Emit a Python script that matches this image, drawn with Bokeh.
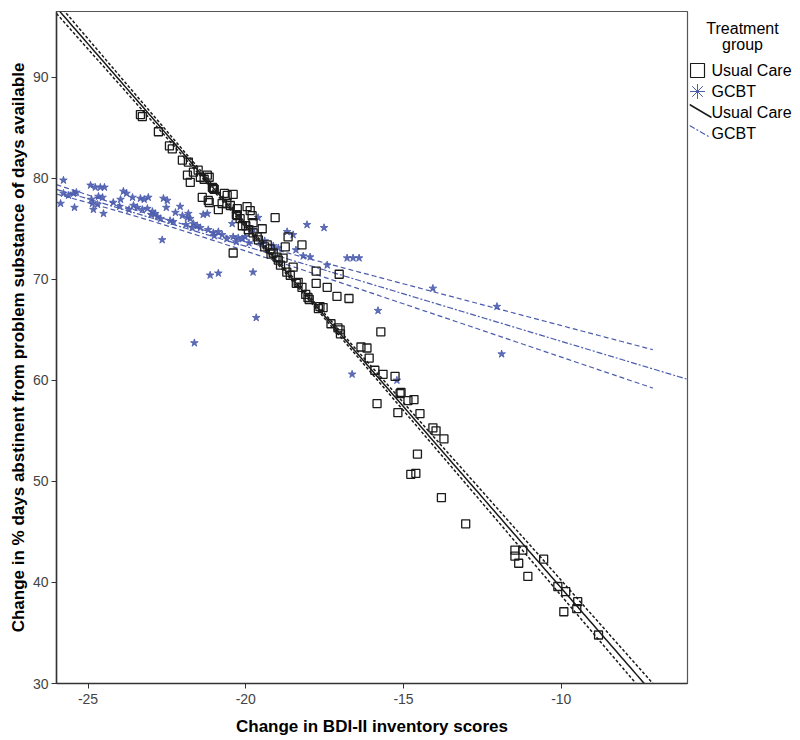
import numpy as np
from bokeh.plotting import figure
from bokeh.layouts import row
from bokeh.models import Range1d, FixedTicker
from bokeh.core.properties import value
from bokeh.embed import file_html
from bokeh.resources import INLINE

# ---------------- data ----------------
x_ticks = [-25, -20, -15, -10]
x_tick_labels = ["-25", "-20", "-15", "-10"]
y_ticks = [30, 40, 50, 60, 70, 80, 90]

# Usual Care (open squares)
uc_x = [-23.34, -23.28, -22.77, -22.42, -22.33, -22.01, -21.82, -21.85, -21.76, -21.66,
        -21.51, -21.44, -21.32, -21.22, -21.16, -21.06, -21.03, -21.38, -21.19, -21.16,
        -20.87, -20.75, -20.68, -20.59, -20.40, -20.49, -20.27, -20.27, -20.18, -20.11,
        -19.96, -19.86, -19.80, -19.77, -19.92, -19.77, -19.64, -19.48, -20.40, -19.07,
        -19.32, -19.23, -19.13, -19.01, -18.97, -18.82, -18.75, -18.66, -18.50, -18.22,
        -18.59, -18.34, -18.22, -18.03, -17.99, -17.77, -17.77, -17.42, -17.65, -17.55,
        -17.11, -16.73, -17.08, -17.01, -17.04, -15.72, -16.35, -16.16, -16.09, -15.91,
        -15.84, -15.65, -15.27, -15.18, -15.08, -14.86, -14.67, -14.48, -14.07, -13.97,
        -13.72, -14.56, -14.61, -14.77, -13.80, -13.03, -11.47, -11.22, -11.47, -11.35,
        -10.56, -11.06, -10.11, -9.86, -9.48, -9.51, -9.92, -8.82, -15.11, -19.60,
        -19.40, -19.20, -18.90, -18.70, -18.40, -18.10, -17.70, -17.30, -17.00, -20.30,
        -20.00, -20.60, -21.00]
uc_y = [86.3, 86.1, 84.6, 83.2, 82.9, 81.8, 81.6, 80.3, 79.6, 80.6,
        80.8, 80.1, 79.9, 80.3, 80.1, 79.1, 79.0, 78.1, 77.8, 77.6,
        76.9, 77.5, 78.5, 78.3, 78.4, 77.3, 77.0, 76.3, 76.0, 75.3,
        77.2, 76.8, 76.3, 75.6, 74.9, 74.6, 74.2, 75.0, 72.6, 76.1,
        73.4, 73.0, 72.6, 72.2, 71.9, 72.1, 73.2, 74.2, 71.2, 73.4,
        70.4, 69.7, 69.2, 68.2, 68.0, 70.8, 69.6, 69.2, 67.3, 67.2,
        68.3, 68.1, 65.2, 65.0, 70.5, 64.8, 63.3, 63.2, 62.2, 61.0,
        57.7, 60.6, 60.4, 56.8, 58.8, 58.0, 58.1, 56.7, 55.3, 55.0,
        54.2, 52.7, 50.8, 50.7, 48.4, 45.8, 43.2, 43.2, 42.6, 41.9,
        42.3, 40.6, 39.6, 39.1, 38.1, 37.4, 37.1, 34.8, 58.7, 73.9,
        73.2, 72.5, 71.4, 70.7, 69.6, 68.5, 67.1, 65.6, 64.6, 76.4,
        75.3, 77.5, 78.9]

# GCBT (stars)
gc_x = [-25.78, -25.87, -25.78, -25.62, -25.46, -25.37, -25.43, -24.92, -24.77, -24.61,
        -24.48, -24.67, -24.54, -24.86, -24.83, -24.51, -24.89, -24.70, -23.88, -23.78,
        -23.97, -23.59, -23.34, -23.22, -23.09, -23.56, -23.44, -23.28, -23.12, -22.96,
        -22.87, -22.61, -22.49, -22.52, -22.23, -22.08, -22.01, -22.65, -21.85, -21.76,
        -21.82, -21.66, -21.54, -21.44, -21.35, -21.22, -21.19, -21.03, -20.87, -20.75,
        -21.13, -20.87, -20.43, -20.40, -20.24, -20.11, -20.02, -19.77, -19.67, -21.63,
        -19.61, -19.77, -19.13, -18.97, -18.69, -18.50, -18.41, -18.06, -17.52, -18.18,
        -17.96, -17.42, -16.79, -16.60, -16.41, -15.81, -16.63, -15.21, -14.07, -12.04,
        -11.89, -23.00, -22.80, -22.70, -22.40, -22.30, -21.90, -21.70, -21.00, -20.60,
        -20.30, -19.90, -19.50, -19.40, -24.20, -24.00, -23.70]
gc_y = [79.8, 77.5, 78.5, 78.3, 78.5, 78.6, 77.1, 79.3, 79.1, 79.1,
        79.1, 78.2, 78.1, 77.5, 76.9, 76.5, 77.9, 77.4, 78.7, 78.5,
        77.9, 78.1, 78.0, 77.9, 78.1, 77.3, 77.1, 76.9, 77.0, 76.7,
        76.5, 78.0, 77.8, 77.1, 76.6, 77.2, 76.3, 73.9, 76.1, 76.0,
        76.5, 75.5, 75.3, 75.1, 76.4, 76.5, 74.9, 74.6, 74.7, 74.4,
        70.4, 70.6, 75.5, 74.2, 74.1, 74.0, 74.2, 70.7, 66.2, 63.7,
        76.1, 74.95, 73.3, 73.1, 74.7, 74.4, 72.9, 75.4, 75.1, 72.3,
        72.2, 71.4, 72.1, 72.1, 72.1, 66.9, 60.6, 60.0, 69.1, 67.3,
        62.6, 76.4, 76.2, 76.0, 75.8, 75.7, 75.4, 75.1, 74.3, 74.0,
        73.7, 73.6, 73.5, 73.8, 77.6, 77.2, 76.9]

# Fitted lines and mean confidence bands
uc_intercept, uc_slope = 3.54, -3.59
uc_ci_center, uc_ci_a, uc_ci_b = -19.2, 0.04, 0.0064
gc_intercept, gc_slope = 54.46, -0.94
gc_ci_center, gc_ci_a, gc_ci_b = -23.0, 0.09, 0.0139
fit_x_span = (-26.0, -6.0)
ci_x_span = (-26.0, -7.1)

legend_title = ["Treatment", "group"]
legend_labels = ["Usual Care", "GCBT", "Usual Care", "GCBT"]

# ---------------- styling ----------------
FONT = "Liberation Sans"
BLACK = "#1a1a1a"
BLUE = "#4b5cad"

p = figure(width=689, height=740, output_backend="svg", toolbar_location=None,
           x_range=Range1d(-26, -6), y_range=Range1d(30, 96.5),
           min_border_left=56, min_border_right=2, min_border_top=11,
           min_border_bottom=57, background_fill_color="white",
           border_fill_color="white")

p.grid.visible = False
p.outline_line_color = "#555555"
p.outline_line_width = 1.2

p.xaxis.ticker = FixedTicker(ticks=x_ticks)
p.xaxis.major_label_overrides = {t: s for t, s in zip(x_ticks, x_tick_labels)}
p.yaxis.ticker = FixedTicker(ticks=y_ticks)
for ax in (p.xaxis, p.yaxis):
    ax.axis_line_color = "#333333"
    ax.axis_line_width = 1.5
    ax.major_tick_line_color = "#333333"
    ax.major_tick_out = 5
    ax.major_tick_in = 0
    ax.minor_tick_line_color = None
    ax.major_label_text_font = FONT
    ax.major_label_text_font_size = "14px"
    ax.major_label_text_color = "#444444"
    ax.axis_label_text_font = FONT
    ax.axis_label_text_font_size = "17px"
    ax.axis_label_text_font_style = "bold"
    ax.axis_label_text_color = "black"
p.xaxis.major_label_standoff = 5
p.yaxis.major_label_standoff = 3
p.xaxis.axis_label = "Change in BDI-II inventory scores"
p.xaxis.axis_label_standoff = 10
p.yaxis.axis_label = "Change in % days abstinent from problem substance of days available"
p.yaxis.axis_label_standoff = 2

# fitted lines and CI bands
fx = np.linspace(fit_x_span[0], fit_x_span[1], 200)
cx = np.linspace(ci_x_span[0], ci_x_span[1], 200)

uc_fit = uc_intercept + uc_slope * fx
uc_mid = uc_intercept + uc_slope * cx
uc_hw = np.sqrt(uc_ci_a + uc_ci_b * (cx - uc_ci_center) ** 2)
gc_fit = gc_intercept + gc_slope * fx
gc_mid = gc_intercept + gc_slope * cx
gc_hw = np.sqrt(gc_ci_a + gc_ci_b * (cx - gc_ci_center) ** 2)

GC_CI = dict(line_color=BLUE, line_width=1.2, line_dash="5 3")
GC_FIT = dict(line_color=BLUE, line_width=1.2, line_dash="6 2 2 2")
UC_CI = dict(line_color=BLACK, line_width=1.5, line_dash="3 2")
UC_FIT = dict(line_color=BLACK, line_width=1.5)
GC_PT = dict(marker="star", size=8, fill_color=BLUE, line_color=BLUE,
             line_width=0.8, fill_alpha=0.9)
UC_PT = dict(marker="square", size=8, fill_color=None, line_color=BLACK,
             line_width=1.3)

p.line(cx, gc_mid + gc_hw, **GC_CI)
p.line(cx, gc_mid - gc_hw, **GC_CI)
p.line(fx, gc_fit, **GC_FIT)
p.line(cx, uc_mid + uc_hw, **UC_CI)
p.line(cx, uc_mid - uc_hw, **UC_CI)
p.line(fx, uc_fit, **UC_FIT)
p.scatter(gc_x, gc_y, **GC_PT)
p.scatter(uc_x, uc_y, **UC_PT)

# ---------------- legend panel (pixel-like coordinates, y downwards) ----------------
# the row aligns this panel's frame with the main frame (page y 11..683)
lg = figure(width=111, height=740, output_backend="svg", toolbar_location=None,
            x_range=Range1d(0, 111), y_range=Range1d(683, 11),
            x_axis_location=None, y_axis_location=None,
            min_border=0, outline_line_color=None, background_fill_color="white",
            border_fill_color="white")
lg.grid.visible = False

key_x = 8
key_rows = [70, 91, 112, 133]
lg.scatter([key_x], [key_rows[0]], marker="square", size=14, fill_color=None,
           line_color=BLACK, line_width=1.2)
lg.scatter([key_x], [key_rows[1]], marker="asterisk", size=15, line_color=BLUE,
           line_width=1.0)
lg.line([0, 22], [key_rows[2] - 8, key_rows[2] + 5], **UC_FIT)
lg.line([0, 21], [key_rows[3] - 8, key_rows[3] + 4], **GC_FIT)

lg.text(x=[53, 53], y=[28, 44], text=legend_title, text_align="center",
        text_baseline="middle", text_font=value(FONT), text_font_size="16px",
        text_color="black")
lg.text(x=[22] * 4, y=key_rows, text=legend_labels, text_align="left",
        text_baseline="middle", text_font=value(FONT), text_font_size="16px",
        text_color="black")

layout = row(p, lg, spacing=0)
open("out.html", "w").write(file_html(layout, INLINE))
